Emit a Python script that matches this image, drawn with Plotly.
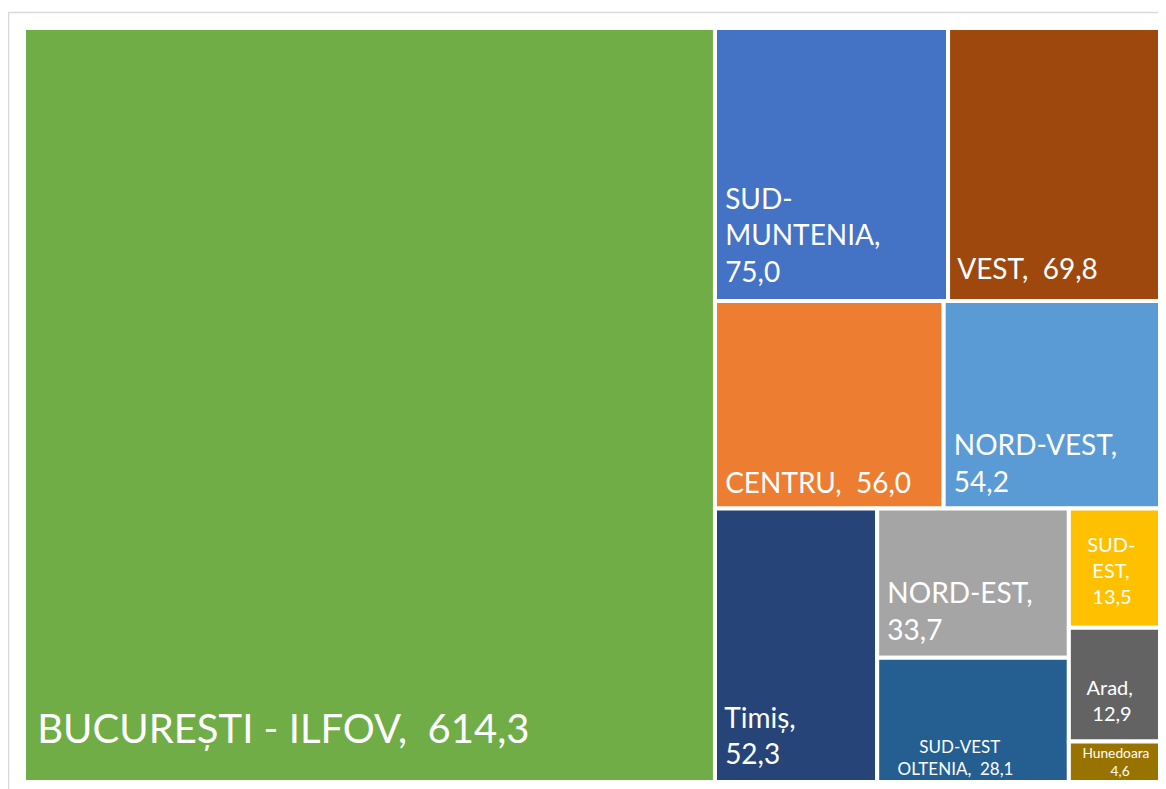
import plotly.graph_objects as go

# ---- data ----
regions = ["BUCUREȘTI - ILFOV", "SUD-MUNTENIA", "VEST", "CENTRU", "NORD-VEST",
           "Timiș", "NORD-EST", "SUD-VEST OLTENIA", "SUD-EST", "Arad", "Hunedoara"]
values = [614.3, 75.0, 69.8, 56.0, 54.2, 52.3, 33.7, 28.1, 13.5, 12.9, 4.6]
# label text as displayed (line breaks as in the original)
label_lines = [["BUCUREȘTI - ILFOV,"], ["SUD-", "MUNTENIA,"], ["VEST,"], ["CENTRU,"],
               ["NORD-VEST,"], ["Timiș,"], ["NORD-EST,"], ["SUD-VEST", "OLTENIA,"],
               ["SUD-", "EST,"], ["Arad,"], ["Hunedoara"]]
value_on_new_line = [False, True, False, False, True, True, True, False, True, True, True]

# ---- styling ----
colors = ["#70AD47", "#4472C4", "#9E480E", "#ED7D31", "#5B9BD5", "#264478",
          "#A5A5A5", "#255E91", "#FFC000", "#636363", "#997300"]
font_sizes = [40, 28, 28, 28, 28, 28, 28, 17, 20, 20, 14]
# leading non-breaking spaces per text line (to mimic Excel's inner padding / centring)
line_indent = [[1], [1, 1, 1], [1], [1], [1, 1], [1, 1], [1, 1], [9, 4],
               [3, 4, 4], [3, 4], [3, 11]]
# font size (px) of an invisible space that gives Excel-like bottom padding
bottom_span = [169, 73, 88, 60, 68, 70, 72, 0, 74, 80, 0]
# lower that space further with a subscript shift (keeps the text box short)
span_in_sub = [False, False, False, False, False, False, False, False, True, False, False]

NB = "\u00a0"


def fmt(v):
    return f"{v:.1f}".replace(".", ",")


texts = []
for lines, v, nl, ind, bs, sb in zip(label_lines, values, value_on_new_line,
                                     line_indent, bottom_span, span_in_sub):
    lines = list(lines)
    if nl:
        lines.append(fmt(v))
    else:
        lines[-1] = lines[-1] + NB + NB + fmt(v)
    lines = [NB * n + s for n, s in zip(ind, lines)]
    if bs:
        span = f'<span style="font-size:{bs}px">{NB}</span>'
        if sb:
            span = f"<sub>{span}</sub>"
        lines[-1] = lines[-1] + span
    texts.append("<br>".join(lines))

ROOT = "Total"
all_labels = [ROOT] + regions
all_parents = [""] + [ROOT] * len(regions)
all_values = [round(sum(values), 1)] + values
all_text = [""] + texts
all_colors = ["white"] + colors
all_sizes = [10] + font_sizes

fig = go.Figure(go.Treemap(
    labels=all_labels,
    parents=all_parents,
    values=all_values,
    branchvalues="total",
    text=all_text,
    texttemplate="%{text}",
    textposition="bottom left",
    sort=True,
    tiling=dict(packing="squarify", squarifyratio=1, pad=0),
    marker=dict(colors=all_colors, line=dict(color="white", width=4),
                pad=dict(t=0, l=0, r=0, b=0)),
    textfont=dict(family="Lato, Open Sans, sans-serif", color="white", size=all_sizes),
    pathbar=dict(visible=False),
    hoverinfo="label+value",
))

fig.update_layout(
    width=1166, height=789,
    margin=dict(l=16, r=9, t=20, b=15),
    paper_bgcolor="white",
    showlegend=False,
    shapes=[dict(type="rect", xref="paper", yref="paper",
                 x0=-0.0136, x1=1.0044, y0=-0.012, y1=1.0206,
                 line=dict(color="#D9D9D9", width=1.5), layer="below")],
)

fig.write_html("out.html")
